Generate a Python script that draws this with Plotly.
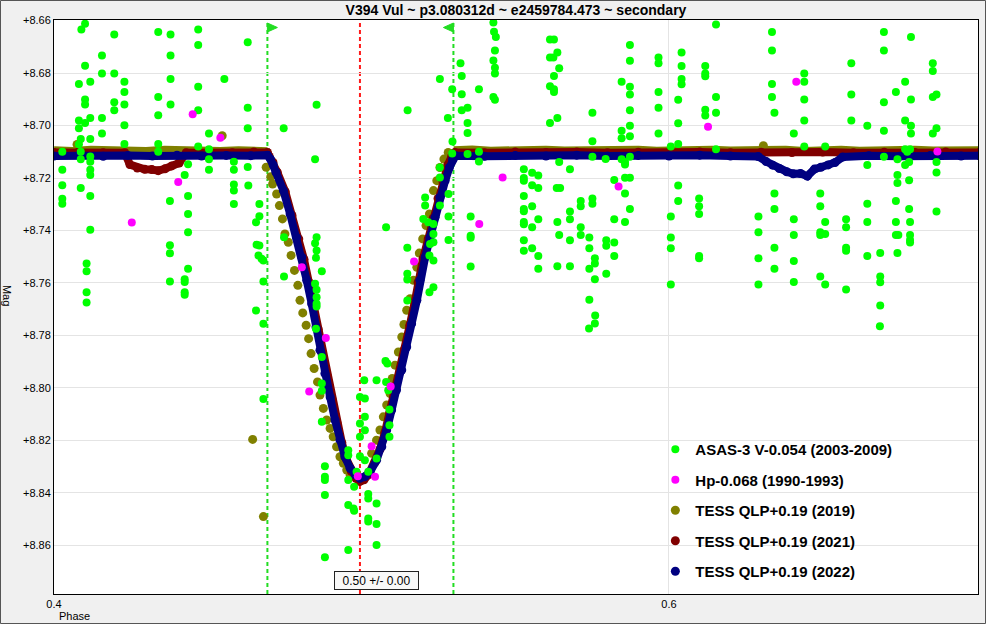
import plotly.graph_objects as go

title = "V394 Vul ~ p3.080312d ~ e2459784.473 ~ secondary"

# eclipse window and mid-eclipse phase
ecl_start = 0.4694
ecl_mid = 0.4995
ecl_end = 0.5299
mid_label = "0.50 +/- 0.00"

x_range = [0.4, 0.7005]
y_range = [8.8785, 8.6598]
y_ticks = [8.66, 8.68, 8.70, 8.72, 8.74, 8.76, 8.78, 8.80, 8.82, 8.84, 8.86]
y_tick_labels = ["+8.66", "+8.68", "+8.70", "+8.72", "+8.74", "+8.76",
                 "+8.78", "+8.80", "+8.82", "+8.84", "+8.86"]
x_ticks = [0.4, 0.6]
x_tick_labels = ["0.4", "0.6"]

# ASAS-3 V-0.054 (2003-2009): (phase, mag)
asas = [
    (0.4101, 8.6612), (0.4089, 8.6634), (0.4196, 8.6653), (0.4339, 8.6644), (0.4379, 8.6653),
    (0.4469, 8.6634), (0.4469, 8.6693), (0.4630, 8.6683), (0.4156, 8.6733), (0.4101, 8.6772),
    (0.4379, 8.6733), (0.4156, 8.6802), (0.4196, 8.6802), (0.4081, 8.6842), (0.4118, 8.6833),
    (0.4229, 8.6833), (0.4379, 8.6823), (0.4469, 8.6852), (0.4554, 8.6823), (0.4229, 8.6872),
    (0.4101, 8.6901), (0.4101, 8.6920), (0.4196, 8.6911), (0.4229, 8.6920), (0.4339, 8.6891),
    (0.4379, 8.6920), (0.4196, 8.6942), (0.4469, 8.6942), (0.4630, 8.6932), (0.4854, 8.6921),
    (0.4081, 8.6981), (0.4101, 8.6990), (0.4118, 8.6971), (0.4156, 8.6971), (0.4229, 8.6999),
    (0.4339, 8.6961), (0.4081, 8.7010), (0.4630, 8.7010), (0.4747, 8.7010), (0.4156, 8.7030),
    (0.4504, 8.7030), (0.4087, 8.7051), (0.4118, 8.7051), (0.4081, 8.7071), (0.4229, 8.7070),
    (0.4339, 8.7070), (0.4469, 8.7080), (0.4504, 8.7090), (0.4027, 8.7100), (0.4087, 8.7100),
    (0.4339, 8.7100), (0.4118, 8.7118), (0.4087, 8.7129), (0.4118, 8.7138), (0.4504, 8.7129),
    (0.4436, 8.7148), (0.4585, 8.7138), (0.4849, 8.7129), (0.4027, 8.7169), (0.4118, 8.7169),
    (0.4504, 8.7169), (0.4585, 8.7169), (0.4630, 8.7158), (0.4118, 8.7189), (0.4425, 8.7189),
    (0.4027, 8.7228), (0.4087, 8.7238), (0.4118, 8.7269), (0.4377, 8.7288), (0.4436, 8.7269),
    (0.4027, 8.7279), (0.4027, 8.7298), (0.4436, 8.7337), (0.4118, 8.7397), (0.4436, 8.7407),
    (0.4377, 8.7456), (0.4377, 8.7487), (0.4106, 8.7526), (0.4106, 8.7555), (0.4436, 8.7546),
    (0.4377, 8.7594), (0.4425, 8.7586), (0.4425, 8.7596), (0.4106, 8.7635), (0.4425, 8.7635),
    (0.4425, 8.7645), (0.4106, 8.7674),
    (0.4585, 8.7225), (0.4585, 8.7248), (0.4632, 8.7229), (0.4585, 8.7299), (0.4668, 8.7299),
    (0.4668, 8.7346), (0.4657, 8.7369), (0.4748, 8.7426), (0.4659, 8.7454), (0.4668, 8.7457),
    (0.4665, 8.7495), (0.4675, 8.7508), (0.4681, 8.7514), (0.4681, 8.7594), (0.4657, 8.7705),
    (0.4681, 8.7755), (0.4748, 8.7575), (0.4854, 8.7426), (0.4849, 8.7449), (0.4854, 8.7476),
    (0.4852, 8.7504), (0.4871, 8.7555), (0.4849, 8.7603), (0.4854, 8.7626), (0.4854, 8.7654),
    (0.4854, 8.7679), (0.4854, 8.7690), (0.4852, 8.7774), (0.4871, 8.7882), (0.4871, 8.7983),
    (0.4871, 8.8011), (0.4681, 8.8042), (0.4871, 8.8129), (0.5080, 8.7388), (0.5149, 8.7466),
    (0.5149, 8.7565), (0.5149, 8.7587), (0.5149, 8.7667), (0.5207, 8.7274), (0.5207, 8.7305),
    (0.5201, 8.7356), (0.5217, 8.7369), (0.5234, 8.7375), (0.5234, 8.7413), (0.5223, 8.7451),
    (0.5234, 8.7445), (0.5221, 8.7495), (0.5234, 8.7514), (0.5234, 8.7616), (0.5221, 8.7635),
    (0.5255, 8.7198), (0.5255, 8.7305), (0.5283, 8.7261), (0.5283, 8.7347), (0.5283, 8.7436),
    (0.5078, 8.7897), (0.5084, 8.7907), (0.5049, 8.7971), (0.5080, 8.7977), (0.5087, 8.8009),
    (0.5091, 8.8082), (0.5091, 8.8142), (0.5091, 8.8186), (0.5049, 8.8269), (0.5009, 8.7971),
    (0.4995, 8.8034), (0.5011, 8.8040), (0.5011, 8.8110), (0.4995, 8.8135), (0.5011, 8.8161),
    (0.4995, 8.8186), (0.4995, 8.8260), (0.5011, 8.8275), (0.5022, 8.8319), (0.4957, 8.8237),
    (0.4957, 8.8256), (0.4984, 8.8319), (0.4957, 8.8351), (0.4976, 8.8376), (0.4957, 8.8446),
    (0.4974, 8.8459), (0.4976, 8.8468), (0.4881, 8.8298), (0.4881, 8.8338), (0.4881, 8.8351),
    (0.4881, 8.8408), (0.5022, 8.8404), (0.5022, 8.8421), (0.5049, 8.8440), (0.5022, 8.8497),
    (0.5022, 8.8509), (0.5049, 8.8518), (0.5049, 8.8598), (0.4957, 8.8617), (0.4881, 8.8645),
    (0.5150, 8.6942), (0.5255, 8.6823), (0.5295, 8.6862), (0.5281, 8.6971), (0.5296, 8.7061),
    (0.5255, 8.7160), (0.5295, 8.7107), (0.5322, 8.6763), (0.5326, 8.6811), (0.5326, 8.6881),
    (0.5326, 8.6942), (0.5345, 8.6932), (0.5345, 8.6990), (0.5345, 8.7029), (0.5345, 8.7109),
    (0.5382, 8.6862), (0.5382, 8.7100), (0.5382, 8.7137), (0.5429, 8.6608), (0.5431, 8.6643),
    (0.5437, 8.6663), (0.5434, 8.6714), (0.5429, 8.6752), (0.5434, 8.6780), (0.5434, 8.6802),
    (0.5429, 8.6891), (0.5434, 8.6902), (0.5355, 8.7347), (0.5355, 8.7420), (0.5355, 8.7428),
    (0.5355, 8.7537), (0.5528, 8.7167), (0.5528, 8.7200), (0.5528, 8.7210), (0.5555, 8.7180),
    (0.5575, 8.7190), (0.5555, 8.7228), (0.5575, 8.7238), (0.5528, 8.7269), (0.5528, 8.7318),
    (0.5528, 8.7327), (0.5555, 8.7308), (0.5528, 8.7368), (0.5528, 8.7376), (0.5555, 8.7388),
    (0.5575, 8.7357), (0.5528, 8.7437), (0.5528, 8.7477), (0.5555, 8.7468), (0.5575, 8.7497),
    (0.5575, 8.7546), (0.5613, 8.6672), (0.5626, 8.6672), (0.5637, 8.6722), (0.5613, 8.6741),
    (0.5624, 8.6741), (0.5643, 8.6782), (0.5626, 8.6811), (0.5613, 8.6850), (0.5626, 8.6862),
    (0.5626, 8.6872), (0.5637, 8.6971), (0.5613, 8.6990), (0.5643, 8.7139), (0.5635, 8.7238),
    (0.5646, 8.7238), (0.5637, 8.7368), (0.5643, 8.7417), (0.5637, 8.7536), (0.5678, 8.7167),
    (0.5678, 8.7328), (0.5678, 8.7357), (0.5678, 8.7437), (0.5678, 8.7536), (0.5713, 8.7288),
    (0.5713, 8.7308), (0.5713, 8.7388), (0.5713, 8.7417), (0.5741, 8.7427), (0.5741, 8.7468),
    (0.5741, 8.7546), (0.5751, 8.6951), (0.5751, 8.7060), (0.5751, 8.7119), (0.5751, 8.7278),
    (0.5751, 8.7298), (0.5759, 8.7506), (0.5759, 8.7526), (0.5759, 8.7586), (0.5741, 8.7664),
    (0.5760, 8.7724), (0.5759, 8.7754), (0.5740, 8.7773), (0.5794, 8.7128), (0.5796, 8.7437),
    (0.5796, 8.7458), (0.5796, 8.7565), (0.5822, 8.7208), (0.5822, 8.7357), (0.5822, 8.7446),
    (0.5822, 8.7497), (0.5846, 8.6833), (0.5846, 8.7020), (0.5846, 8.7049), (0.5846, 8.7129),
    (0.5873, 8.6693), (0.5873, 8.6753), (0.5873, 8.6852), (0.5873, 8.6882), (0.5873, 8.6942),
    (0.5873, 8.7001), (0.5873, 8.7041), (0.5873, 8.7119), (0.5857, 8.7139), (0.5857, 8.7149),
    (0.5873, 8.7199), (0.5857, 8.7199), (0.5857, 8.7259), (0.5873, 8.7318), (0.5857, 8.7368),
    (0.5966, 8.6741), (0.5966, 8.6763), (0.5966, 8.6872), (0.5966, 8.6932), (0.5966, 8.7030),
    (0.6006, 8.7080), (0.6006, 8.7347), (0.6006, 8.7427), (0.6006, 8.7468), (0.6006, 8.7606),
    (0.6041, 8.6722), (0.6041, 8.6773), (0.6041, 8.6823), (0.6041, 8.6843), (0.6030, 8.6902),
    (0.6030, 8.6991), (0.6030, 8.7070), (0.6030, 8.7229), (0.6030, 8.7288),
    (0.6153, 8.6615), (0.6118, 8.6773), (0.6118, 8.6802), (0.6118, 8.6812), (0.6153, 8.6891),
    (0.6118, 8.6940), (0.6118, 8.6962), (0.6153, 8.6951), (0.6153, 8.7090), (0.6098, 8.7278),
    (0.6098, 8.7308), (0.6098, 8.7337), (0.6098, 8.7497), (0.6098, 8.7506), (0.6335, 8.6644),
    (0.6335, 8.6714), (0.6335, 8.6842), (0.6335, 8.6891), (0.6343, 8.6951), (0.6291, 8.7347),
    (0.6291, 8.7407), (0.6291, 8.7506), (0.6291, 8.7606), (0.6343, 8.7259), (0.6343, 8.7318),
    (0.6343, 8.7466), (0.6343, 8.7546), (0.6406, 8.7030), (0.6406, 8.7357), (0.6406, 8.7417),
    (0.6406, 8.7516), (0.6406, 8.7596), (0.6440, 8.6802), (0.6440, 8.6833), (0.6440, 8.6901),
    (0.6440, 8.6981), (0.6440, 8.7080), (0.6492, 8.7259), (0.6492, 8.7308), (0.6508, 8.7368),
    (0.6492, 8.7407), (0.6508, 8.7413), (0.6492, 8.7417), (0.6492, 8.7575), (0.6508, 8.7606),
    (0.6508, 8.7080), (0.6576, 8.7357), (0.6576, 8.7388), (0.6576, 8.7466), (0.6576, 8.7477),
    (0.6576, 8.7625), (0.6593, 8.6763), (0.6593, 8.6882), (0.6593, 8.6981), (0.6645, 8.7001),
    (0.6645, 8.7150), (0.6645, 8.7298), (0.6645, 8.7368), (0.6645, 8.7497), (0.6687, 8.7486),
    (0.6687, 8.7575), (0.6687, 8.7597), (0.6687, 8.7686), (0.6686, 8.7765), (0.6699, 8.6644),
    (0.6699, 8.6714), (0.6699, 8.6911), (0.6699, 8.7020), (0.6699, 8.7119), (0.6738, 8.6872),
    (0.6768, 8.6833), (0.6787, 8.6901), (0.6768, 8.6981), (0.6787, 8.7001), (0.6787, 8.7030),
    (0.6768, 8.7090), (0.6784, 8.7090), (0.6775, 8.7100), (0.6743, 8.7129), (0.6768, 8.7150),
    (0.6781, 8.7139), (0.6743, 8.7189), (0.6743, 8.7219), (0.6781, 8.7209), (0.6738, 8.7288),
    (0.6781, 8.7318), (0.6738, 8.7368), (0.6784, 8.7368), (0.6738, 8.7417), (0.6746, 8.7417),
    (0.6784, 8.7417), (0.6784, 8.7436), (0.6784, 8.7446), (0.6743, 8.7486), (0.6787, 8.6663),
    (0.6858, 8.6763), (0.6858, 8.6792), (0.6858, 8.6891), (0.6870, 8.6882), (0.6870, 8.7010),
    (0.6858, 8.7030), (0.6870, 8.7139), (0.6870, 8.7179), (0.6870, 8.7328),
]

# Hp-0.068 (1990-1993)
hp = [
    (0.4451, 8.6957), (0.4541, 8.7047), (0.4404, 8.7215), (0.4253, 8.7370), (0.4806, 8.7540),
    (0.4884, 8.7810), (0.4830, 8.8013), (0.5095, 8.7994), (0.5171, 8.7518), (0.5033, 8.8222),
    (0.4988, 8.8336), (0.5044, 8.8338), (0.5459, 8.7198), (0.5383, 8.7375), (0.5836, 8.7232),
    (0.6127, 8.7005), (0.6414, 8.6833), (0.6873, 8.7099),
]

# TESS QLP+0.19 (2019): out-of-eclipse run and the scattered points
tess19_flat = [
    (0.4000, 8.7094), (0.4060, 8.7097), (0.4120, 8.7092), (0.4180, 8.7096), (0.4240, 8.7093),
    (0.4300, 8.7097), (0.4360, 8.7092), (0.4420, 8.7095), (0.4480, 8.7093), (0.4540, 8.7097),
    (0.4600, 8.7094), (0.4660, 8.7096), (0.4694, 8.7098), (None, None),
    (0.5300, 8.7094), (0.5360, 8.7091), (0.5420, 8.7096), (0.5480, 8.7093), (0.5540, 8.7097),
    (0.5600, 8.7092), (0.5660, 8.7095), (0.5720, 8.7093), (0.5780, 8.7097), (0.5840, 8.7094),
    (0.5900, 8.7092), (0.5960, 8.7096), (0.6020, 8.7093), (0.6080, 8.7097), (0.6140, 8.7092),
    (0.6200, 8.7095), (0.6260, 8.7093), (0.6320, 8.7096), (0.6380, 8.7092), (0.6440, 8.7097),
    (0.6500, 8.7094), (0.6560, 8.7092), (0.6620, 8.7096), (0.6680, 8.7093), (0.6740, 8.7097),
    (0.6800, 8.7092), (0.6860, 8.7095), (0.6920, 8.7093), (0.6980, 8.7096), (0.7010, 8.7094),
]
tess19 = [
    (0.4075, 8.7072), (0.4547, 8.7039), (0.6307, 8.7077), (0.4646, 8.8196), (0.4681, 8.8490),
    (0.4690, 8.7159), (0.4705, 8.7195), (0.4711, 8.7223), (0.4724, 8.7261), (0.4733, 8.7305),
    (0.4743, 8.7356), (0.4751, 8.7413), (0.4762, 8.7445), (0.4771, 8.7495), (0.4782, 8.7552),
    (0.4793, 8.7609), (0.4800, 8.7666), (0.4809, 8.7714), (0.4820, 8.7761), (0.4828, 8.7812),
    (0.4836, 8.7869), (0.4846, 8.7926), (0.4857, 8.7977), (0.4865, 8.8027), (0.4876, 8.8078),
    (0.4887, 8.8122), (0.4898, 8.8154), (0.4908, 8.8186), (0.4919, 8.8224), (0.4930, 8.8262),
    (0.4941, 8.8287), (0.4952, 8.8313), (0.4963, 8.8332), (0.5033, 8.8249), (0.5049, 8.8199),
    (0.5060, 8.8160), (0.5071, 8.8110), (0.5082, 8.8065), (0.5093, 8.8021), (0.5100, 8.7964),
    (0.5109, 8.7913), (0.5120, 8.7863), (0.5131, 8.7806), (0.5138, 8.7758), (0.5147, 8.7704),
    (0.5158, 8.7660), (0.5169, 8.7590), (0.5180, 8.7540), (0.5188, 8.7486), (0.5199, 8.7432),
    (0.5210, 8.7381), (0.5221, 8.7337), (0.5234, 8.7248), (0.5245, 8.7210), (0.5255, 8.7160),
    (0.5268, 8.7128), (0.5282, 8.7103),
]

# TESS QLP+0.19 (2021)
tess21 = [
    (0.4000, 8.7103), (0.4080, 8.7101), (0.4160, 8.7104), (0.4230, 8.7104), (0.4247, 8.7149),
    (0.4271, 8.7162), (0.4295, 8.7167), (0.4318, 8.7168), (0.4339, 8.7172), (0.4361, 8.7165),
    (0.4383, 8.7154), (0.4407, 8.7143), (0.4430, 8.7104), (0.4500, 8.7102), (0.4580, 8.7104),
    (0.4650, 8.7101), (0.4694, 8.7103), (0.4700, 8.7118), (0.4712, 8.7140), (0.4726, 8.7178),
    (0.4752, 8.7252), (0.4774, 8.7343), (0.4796, 8.7432), (0.4813, 8.7510), (0.4829, 8.7598),
    (0.4845, 8.7688), (0.4859, 8.7776), (0.4872, 8.7866), (0.4888, 8.7953), (0.4904, 8.8043),
    (0.4920, 8.8132), (0.4936, 8.8208), (0.4951, 8.8272), (0.4967, 8.8318), (0.4982, 8.8344),
    (0.4995, 8.8356), (0.5008, 8.8350), (0.5023, 8.8330), (0.5043, 8.8285), (0.5060, 8.8234),
    (0.5076, 8.8170), (0.5092, 8.8094), (0.5108, 8.8018), (0.5125, 8.7940), (0.5140, 8.7852),
    (0.5157, 8.7762), (0.5173, 8.7674), (0.5184, 8.7598), (0.5200, 8.7508), (0.5217, 8.7432),
    (0.5233, 8.7354), (0.5249, 8.7278), (0.5265, 8.7212), (0.5281, 8.7150), (0.5294, 8.7116),
    (0.5304, 8.7103), (0.5400, 8.7104), (0.5500, 8.7101), (0.5600, 8.7103), (0.5700, 8.7101),
    (0.5800, 8.7104), (0.5900, 8.7102), (0.6000, 8.7103), (0.6100, 8.7101), (0.6200, 8.7104),
    (0.6300, 8.7102), (0.6400, 8.7103), (0.6500, 8.7101), (0.6600, 8.7104), (0.6700, 8.7102),
    (0.6800, 8.7103), (0.6900, 8.7101), (0.7010, 8.7103),
]

# TESS QLP+0.19 (2022)
tess22 = [
    (0.4000, 8.7116), (0.4080, 8.7114), (0.4160, 8.7117), (0.4240, 8.7114), (0.4320, 8.7116),
    (0.4400, 8.7113), (0.4480, 8.7116), (0.4560, 8.7114), (0.4640, 8.7115), (0.4694, 8.7113),
    (0.4704, 8.7128), (0.4713, 8.7150), (0.4722, 8.7178), (0.4746, 8.7248), (0.4768, 8.7337),
    (0.4789, 8.7426), (0.4806, 8.7502), (0.4822, 8.7590), (0.4838, 8.7679), (0.4852, 8.7768),
    (0.4865, 8.7856), (0.4881, 8.7945), (0.4898, 8.8034), (0.4914, 8.8122), (0.4930, 8.8198),
    (0.4946, 8.8262), (0.4963, 8.8306), (0.4979, 8.8331), (0.4995, 8.8344), (0.5011, 8.8338),
    (0.5028, 8.8319), (0.5049, 8.8275), (0.5066, 8.8224), (0.5082, 8.8160), (0.5098, 8.8084),
    (0.5114, 8.8008), (0.5131, 8.7932), (0.5147, 8.7844), (0.5163, 8.7755), (0.5180, 8.7666),
    (0.5190, 8.7590), (0.5207, 8.7502), (0.5223, 8.7426), (0.5239, 8.7350), (0.5255, 8.7274),
    (0.5272, 8.7210), (0.5286, 8.7160), (0.5296, 8.7130), (0.5306, 8.7115), (0.5400, 8.7117),
    (0.5500, 8.7114), (0.5600, 8.7116), (0.5700, 8.7113), (0.5800, 8.7116), (0.5900, 8.7114),
    (0.6000, 8.7116), (0.6100, 8.7113), (0.6200, 8.7116), (0.6290, 8.7118), (0.6316, 8.7137),
    (0.6337, 8.7151), (0.6359, 8.7164), (0.6383, 8.7176), (0.6404, 8.7184), (0.6428, 8.7183),
    (0.6450, 8.7193), (0.6473, 8.7166), (0.6494, 8.7159), (0.6518, 8.7150), (0.6540, 8.7141),
    (0.6565, 8.7120), (0.6650, 8.7115), (0.6750, 8.7117), (0.6850, 8.7114), (0.6950, 8.7116),
    (0.7010, 8.7115),
]


def xy(pts):
    return [p[0] for p in pts], [p[1] for p in pts]


OLIVE = "#808000"
MAROON = "#800000"
NAVY = "#000080"
GREEN = "#00ff00"
MAGENTA = "#ff00ff"

fig = go.Figure()

x, y = xy(tess19_flat)
fig.add_trace(go.Scatter(x=x, y=y, mode="lines", line=dict(color=OLIVE, width=8),
                         legendgroup="t19", showlegend=False, hoverinfo="skip"))
x, y = xy(tess19)
fig.add_trace(go.Scatter(x=x, y=y, mode="markers", marker=dict(color=OLIVE, size=9),
                         name="TESS QLP+0.19 (2019)", legendgroup="t19", legendrank=3))

x, y = xy(tess21)
fig.add_trace(go.Scatter(x=x, y=y, mode="lines", line=dict(color=MAROON, width=8),
                         legendgroup="t21", showlegend=False, hoverinfo="skip"))
fig.add_trace(go.Scatter(x=x, y=y, mode="markers", marker=dict(color=MAROON, size=9),
                         name="TESS QLP+0.19 (2021)", legendgroup="t21", legendrank=4))

x, y = xy(tess22)
fig.add_trace(go.Scatter(x=x, y=y, mode="lines", line=dict(color=NAVY, width=8),
                         legendgroup="t22", showlegend=False, hoverinfo="skip"))
fig.add_trace(go.Scatter(x=x, y=y, mode="markers", marker=dict(color=NAVY, size=9),
                         name="TESS QLP+0.19 (2022)", legendgroup="t22", legendrank=5))

x, y = xy(asas)
fig.add_trace(go.Scatter(x=x, y=y, mode="markers", marker=dict(color=GREEN, size=8),
                         name="ASAS-3 V-0.054 (2003-2009)", legendgroup="asas", legendrank=1))
x, y = xy(hp)
fig.add_trace(go.Scatter(x=x, y=y, mode="markers", marker=dict(color=MAGENTA, size=8),
                         name="Hp-0.068 (1990-1993)", legendgroup="hp", legendrank=2))

shapes = []
for xv, col in [(ecl_start, "#22dd22"), (ecl_end, "#22dd22"), (ecl_mid, "#ff1a1a")]:
    shapes.append(dict(type="line", xref="x", yref="paper", x0=xv, x1=xv, y0=0, y1=1,
                       line=dict(color=col, width=2, dash="4px,3px"), layer="below"))
# little flags on top of the eclipse limits
shapes.append(dict(type="path", xref="x", yref="paper", xsizemode="pixel", ysizemode="pixel",
                   xanchor=ecl_start, yanchor=1, path="M0,-3 L10,-7.5 L0,-12 Z",
                   fillcolor="#22dd22", line=dict(color="#22dd22", width=1)))
shapes.append(dict(type="path", xref="x", yref="paper", xsizemode="pixel", ysizemode="pixel",
                   xanchor=ecl_end, yanchor=1, path="M0,-3 L-10,-7.5 L0,-12 Z",
                   fillcolor="#22dd22", line=dict(color="#22dd22", width=1)))
# outer window frame
shapes.append(dict(type="rect", xref="paper", yref="paper", x0=-53.5 / 924, x1=1 + 7.5 / 924,
                   y0=-29.5 / 574, y1=1 + 19.5 / 574, line=dict(color="#555555", width=1)))

fig.update_layout(
    width=986, height=624,
    margin=dict(l=54, r=8, t=20, b=30),
    paper_bgcolor="#f0f0f0", plot_bgcolor="white",
    font=dict(family="Liberation Sans, Arial, sans-serif", size=11, color="black"),
    title=dict(text=title, x=0.5, xref="paper", y=1 - 10 / 624, yref="container",
               yanchor="middle", xanchor="center",
               font=dict(size=14, weight="bold", color="black")),
    xaxis=dict(range=x_range, tickvals=x_ticks, ticktext=x_tick_labels, showgrid=True,
               gridcolor="#e4e4e4", zeroline=False, showline=True, linecolor="black",
               linewidth=1, mirror=True, ticks="", tickfont=dict(size=11)),
    yaxis=dict(range=y_range, tickvals=y_ticks, ticktext=y_tick_labels, showgrid=True,
               gridcolor="#e4e4e4", zeroline=False, showline=True, linecolor="black",
               linewidth=1, mirror=True, ticks="", tickfont=dict(size=11)),
    showlegend=True,
    legend=dict(x=0.6508, y=0.2805, xanchor="left", yanchor="top", bgcolor="rgba(0,0,0,0)",
                traceorder="grouped", tracegroupgap=8,
                font=dict(size=15, weight="bold", color="black")),
    shapes=shapes,
    annotations=[
        dict(text="Phase", xref="paper", yref="paper", x=3 / 924, y=-22 / 574,
             xanchor="left", yanchor="middle", showarrow=False, font=dict(size=11)),
        dict(text="Mag", xref="paper", yref="paper", x=-47 / 924, y=0.521, textangle=90,
             xanchor="center", yanchor="middle", showarrow=False, font=dict(size=11)),
        dict(text=mid_label, xref="x", yref="paper", x=ecl_mid, xshift=17, y=14 / 574,
             xanchor="center", yanchor="middle", showarrow=False, font=dict(size=12),
             width=79, height=13, bgcolor="#f8f8f8", bordercolor="#222222",
             borderwidth=1, borderpad=2),
    ],
)

fig.write_html("out.html", config={"displayModeBar": False},
               post_script="document.body.style.margin='0';")
